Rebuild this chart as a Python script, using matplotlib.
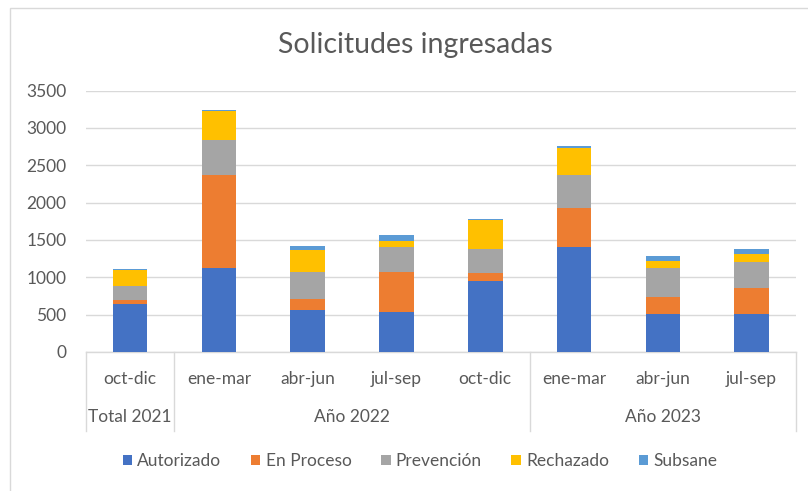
import numpy as np
import matplotlib
matplotlib.use("Agg")
import matplotlib.pyplot as plt
from matplotlib.patches import Rectangle
from matplotlib.lines import Line2D
import matplotlib.transforms as mtransforms

plt.rcParams['font.family'] = ['Lato', 'DejaVu Sans']

# Datos
periodos = ["oct-dic", "ene-mar", "abr-jun", "jul-sep", "oct-dic",
            "ene-mar", "abr-jun", "jul-sep"]
grupos = ["Total 2021", "Año 2022", "Año 2023"]
grupo_inicio = [0, 1, 5]
grupo_fin = [0, 4, 7]

autorizado = [640, 1130, 565, 530, 950, 1400, 505, 505]
en_proceso = [50, 1245, 145, 545, 110, 530, 235, 350]
prevencion = [195, 465, 355, 335, 315, 440, 380, 355]
rechazado = [210, 390, 300, 80, 390, 360, 95, 100]
subsane = [12, 15, 50, 70, 15, 25, 70, 70]

series = [autorizado, en_proceso, prevencion, rechazado, subsane]
nombres = ["Autorizado", "En Proceso", "Prevención", "Rechazado", "Subsane"]
colores = ["#4472C4", "#ED7D31", "#A5A5A5", "#FFC000", "#5B9BD5"]

gris_texto = "#595959"
gris_linea = "#D9D9D9"
fs = 12.5  # tamaño de letra de ejes y leyenda

W, H = 808, 491
fig = plt.figure(figsize=(W / 100, H / 100), dpi=100, facecolor="white")

# Área del gráfico (en pixeles de la figura)
x0, x1, ytop, ybot = 85.7, 796, 90.5, 352
ax = fig.add_axes([x0 / W, 1 - ybot / H, (x1 - x0) / W, (ybot - ytop) / H])

x = np.arange(len(periodos))
base = np.zeros(len(periodos))
for vals, nom, col in zip(series, nombres, colores):
    ax.bar(x, vals, bottom=base, width=0.39, color=col, label=nom, zorder=3)
    base = base + np.array(vals)

ax.set_xlim(-0.5, len(periodos) - 0.5)
ax.set_ylim(0, 3500)
ax.set_yticks(np.arange(0, 3501, 500))
ax.yaxis.grid(True, color=gris_linea, lw=1.0, zorder=0)
ax.tick_params(axis='y', length=0, pad=14, labelsize=fs, labelcolor=gris_texto)
ax.set_xticks([])
for s in ["top", "right", "left"]:
    ax.spines[s].set_visible(False)
ax.spines["bottom"].set_color(gris_linea)
ax.spines["bottom"].set_linewidth(1.0)

# Etiquetas de categorías en dos niveles
trans = mtransforms.blended_transform_factory(ax.transData, fig.transFigure)
for xi, p in zip(x, periodos):
    ax.text(xi, 1 - 379 / H, p, transform=trans, ha="center", va="center",
            fontsize=fs, color=gris_texto)
for g, a, b in zip(grupos, grupo_inicio, grupo_fin):
    ax.text((a + b) / 2, 1 - 417 / H, g, transform=trans, ha="center", va="center",
            fontsize=fs, color=gris_texto)

sep = [-0.5] + [b + 0.5 for b in grupo_fin]
for s in sep:
    ax.add_line(Line2D([s, s], [1 - ybot / H, 1 - 431 / H], transform=trans,
                       color=gris_linea, lw=1.0, clip_on=False))

# Título
fig.text(415 / W, 1 - 45 / H, "Solicitudes ingresadas", ha="center", va="center",
         fontsize=20.5, color=gris_texto)

# Leyenda
leg = fig.legend(*ax.get_legend_handles_labels(), loc="center",
                 bbox_to_anchor=(420 / W, 1 - 461 / H), ncol=5, frameon=False,
                 handlelength=0.55, handleheight=0.55, handletextpad=0.3,
                 columnspacing=1.7, fontsize=fs)
for t in leg.get_texts():
    t.set_color(gris_texto)

# Borde del área del gráfico (solo se ven los lados izquierdo y superior)
fig.patches.append(Rectangle((10 / W, -0.1), 1.2, (H - 8) / H + 0.1,
                             transform=fig.transFigure, fill=False,
                             edgecolor=gris_linea, lw=1.0))

fig.savefig("out.png", dpi=100, facecolor="white")
